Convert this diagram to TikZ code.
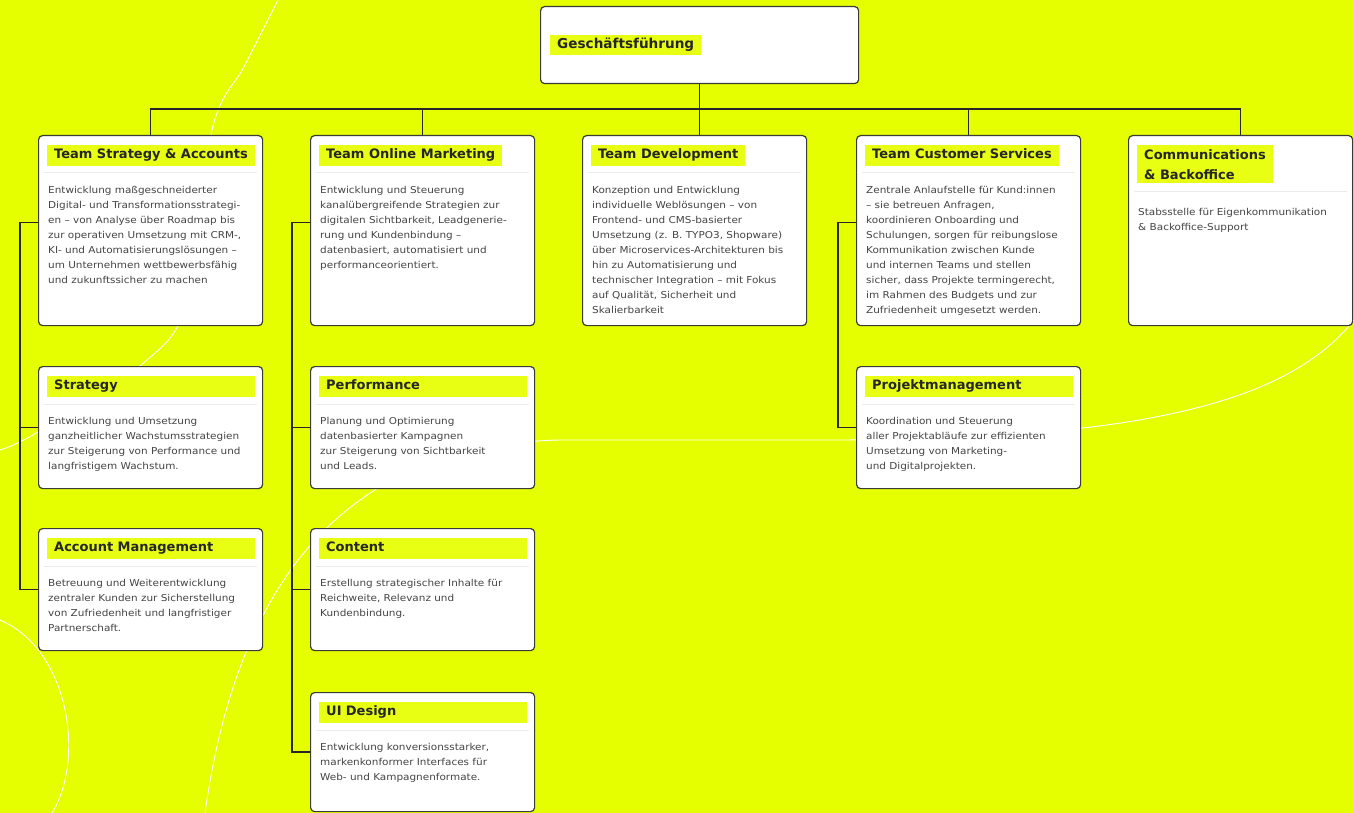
\documentclass[tikz,border=0pt]{standalone}
\usepackage{fontspec}
\setmainfont{DejaVu Sans}
\newfontfamily\bodyfont[FakeStretch=1.1]{DejaVu Sans}
\usetikzlibrary{positioning,calc}
\definecolor{bgYellow}{HTML}{E5FF00}
\definecolor{hlYellow}{HTML}{E8FF14}
\definecolor{frameGray}{HTML}{3A3A3A}
\definecolor{textGray}{HTML}{444444}

\begin{document}
\begin{tikzpicture}[x=1pt, y=-1pt,
  unitBox/.style={draw=frameGray, line width=1.2pt, fill=white, rounded corners=4pt, anchor=north west, inner sep=0pt, minimum width=224pt},
  baseTag/.style={fill=hlYellow, anchor=north west, inner xsep=7pt, inner ysep=4pt, font=\fontsize{13}{20}\selectfont\bfseries, text=black!85, align=left},
  titleTag/.style={baseTag, text height=9.5pt, text depth=3pt},
  wideTag/.style={titleTag, text width=194pt},
  bodyText/.style={anchor=north west, inner sep=0pt, align=left, font=\bodyfont\fontsize{9.5}{15}\selectfont, text=textGray},
  linkLine/.style={draw=black!85, line width=1.4pt},
  sepLine/.style={draw=black!8, line width=0.8pt},
  bgCurve/.style={draw=white, line width=0.9pt}
]
\fill[bgYellow] (0,0) rectangle (1354,813);
\useasboundingbox (0,0) rectangle (1354,813);

\draw[bgCurve] plot[smooth, tension=0.6] coordinates {(278,0) (245,65) (212,130) (188,300) (140,366) (38,432) (0,450)};
\draw[bgCurve] (0,620) .. controls (70,650) and (85,760) .. (52,813);
\draw[bgCurve] (205,813) .. controls (235,600) and (330,445) .. (560,440) -- (830,440) .. controls (1150,440) and (1290,400) .. (1354,320);

\node[unitBox, minimum width=318pt, minimum height=77pt] (gf) at (540,6) {};
\node[titleTag, anchor=west, font=\fontsize{13.6}{16}\selectfont\bfseries] (gfT) at ([xshift=10pt]gf.west) {Geschäftsführung};

\node[unitBox, minimum height=190pt] (tsa) at (38,135) {};
\node[unitBox, minimum height=190pt] (tom) at (310,135) {};
\node[unitBox, minimum height=190pt] (tdev) at (582,135) {};
\node[unitBox, minimum height=190pt] (tcs) at (856,135) {};
\node[unitBox, minimum height=190pt] (tcb) at (1128,135) {};

\node[unitBox, minimum height=122pt] (strat) at (38,366) {};
\node[unitBox, minimum height=122pt] (perf) at (310,366) {};
\node[unitBox, minimum height=122pt] (pm) at (856,366) {};
\node[unitBox, minimum height=122pt] (acc) at (38,528) {};
\node[unitBox, minimum height=122pt] (cont) at (310,528) {};
\node[unitBox, minimum height=119pt] (uid) at (310,692) {};

\node[titleTag] (tsaT) at ([xshift=9pt,yshift=-10pt]tsa.north west) {Team Strategy \& Accounts};
\node[titleTag] (tomT) at ([xshift=9pt,yshift=-10pt]tom.north west) {Team Online Marketing};
\node[titleTag] (tdevT) at ([xshift=9pt,yshift=-10pt]tdev.north west) {Team Development};
\node[titleTag] (tcsT) at ([xshift=9pt,yshift=-10pt]tcs.north west) {Team Customer Services};
\node[baseTag] (tcbT) at ([xshift=9pt,yshift=-10pt]tcb.north west) {Communications\\\& Backoffice};
\node[wideTag] (stratT) at ([xshift=9pt,yshift=-10pt]strat.north west) {Strategy};
\node[wideTag] (perfT) at ([xshift=9pt,yshift=-10pt]perf.north west) {Performance};
\node[wideTag] (pmT) at ([xshift=9pt,yshift=-10pt]pm.north west) {Projektmanagement};
\node[wideTag] (accT) at ([xshift=9pt,yshift=-10pt]acc.north west) {Account Management};
\node[wideTag] (contT) at ([xshift=9pt,yshift=-10pt]cont.north west) {Content};
\node[wideTag] (uidT) at ([xshift=9pt,yshift=-10pt]uid.north west) {UI Design};

\draw[sepLine] ($(tsaT.south -| tsa.west)+(6pt,-7pt)$) -- ($(tsaT.south -| tsa.east)+(-6pt,-7pt)$);
\draw[sepLine] ($(tomT.south -| tom.west)+(6pt,-7pt)$) -- ($(tomT.south -| tom.east)+(-6pt,-7pt)$);
\draw[sepLine] ($(tdevT.south -| tdev.west)+(6pt,-7pt)$) -- ($(tdevT.south -| tdev.east)+(-6pt,-7pt)$);
\draw[sepLine] ($(tcsT.south -| tcs.west)+(6pt,-7pt)$) -- ($(tcsT.south -| tcs.east)+(-6pt,-7pt)$);
\draw[sepLine] ($(tcbT.south -| tcb.west)+(6pt,-8pt)$) -- ($(tcbT.south -| tcb.east)+(-6pt,-8pt)$);
\draw[sepLine] ($(stratT.south -| strat.west)+(6pt,-7pt)$) -- ($(stratT.south -| strat.east)+(-6pt,-7pt)$);
\draw[sepLine] ($(perfT.south -| perf.west)+(6pt,-7pt)$) -- ($(perfT.south -| perf.east)+(-6pt,-7pt)$);
\draw[sepLine] ($(pmT.south -| pm.west)+(6pt,-7pt)$) -- ($(pmT.south -| pm.east)+(-6pt,-7pt)$);
\draw[sepLine] ($(accT.south -| acc.west)+(6pt,-7pt)$) -- ($(accT.south -| acc.east)+(-6pt,-7pt)$);
\draw[sepLine] ($(contT.south -| cont.west)+(6pt,-7pt)$) -- ($(contT.south -| cont.east)+(-6pt,-7pt)$);
\draw[sepLine] ($(uidT.south -| uid.west)+(6pt,-7pt)$) -- ($(uidT.south -| uid.east)+(-6pt,-7pt)$);

\node[bodyText] (tsaB) at ([xshift=1pt,yshift=-20pt]tsaT.south west) {Entwicklung maßgeschneiderter\\Digital- und Transformationsstrategi-\\en – von Analyse über Roadmap bis\\zur operativen Umsetzung mit CRM-,\\KI- und Automatisierungslösungen –\\um Unternehmen wettbewerbsfähig\\und zukunftssicher zu machen};
\node[bodyText] (tomB) at ([xshift=1pt,yshift=-20pt]tomT.south west) {Entwicklung und Steuerung\\kanalübergreifende Strategien zur\\digitalen Sichtbarkeit, Leadgenerie-\\rung und Kundenbindung –\\datenbasiert, automatisiert und\\performanceorientiert.};
\node[bodyText] (tdevB) at ([xshift=1pt,yshift=-20pt]tdevT.south west) {Konzeption und Entwicklung\\individuelle Weblösungen – von\\Frontend- und CMS-basierter\\Umsetzung (z. B. TYPO3, Shopware)\\über Microservices-Architekturen bis\\hin zu Automatisierung und\\technischer Integration – mit Fokus\\auf Qualität, Sicherheit und\\Skalierbarkeit};
\node[bodyText] (tcsB) at ([xshift=1pt,yshift=-20pt]tcsT.south west) {Zentrale Anlaufstelle für Kund:innen\\– sie betreuen Anfragen,\\koordinieren Onboarding und\\Schulungen, sorgen für reibungslose\\Kommunikation zwischen Kunde\\und internen Teams und stellen\\sicher, dass Projekte termingerecht,\\im Rahmen des Budgets und zur\\Zufriedenheit umgesetzt werden.};
\node[bodyText] (tcbB) at ([xshift=1pt,yshift=-25pt]tcbT.south west) {Stabsstelle für Eigenkommunikation\\\& Backoffice-Support};
\node[bodyText] (stratB) at ([xshift=1pt,yshift=-20pt]stratT.south west) {Entwicklung und Umsetzung\\ganzheitlicher Wachstumsstrategien\\zur Steigerung von Performance und\\langfristigem Wachstum.};
\node[bodyText] (perfB) at ([xshift=1pt,yshift=-20pt]perfT.south west) {Planung und Optimierung\\datenbasierter Kampagnen\\zur Steigerung von Sichtbarkeit\\und Leads.};
\node[bodyText] (pmB) at ([xshift=1pt,yshift=-20pt]pmT.south west) {Koordination und Steuerung\\aller Projektabläufe zur effizienten\\Umsetzung von Marketing-\\und Digitalprojekten.};
\node[bodyText] (accB) at ([xshift=1pt,yshift=-20pt]accT.south west) {Betreuung und Weiterentwicklung\\zentraler Kunden zur Sicherstellung\\von Zufriedenheit und langfristiger\\Partnerschaft.};
\node[bodyText] (contB) at ([xshift=1pt,yshift=-20pt]contT.south west) {Erstellung strategischer Inhalte für\\Reichweite, Relevanz und\\Kundenbindung.};
\node[bodyText] (uidB) at ([xshift=1pt,yshift=-20pt]uidT.south west) {Entwicklung konversionsstarker,\\markenkonformer Interfaces für\\Web- und Kampagnenformate.};

\coordinate (busY) at ($(gf.south)+(0,-25pt)$);
\draw[linkLine] (gf.south) -- (gf.south |- tdev.north);
\draw[linkLine] (tsa.north) |- (busY) -| (tcb.north);
\draw[linkLine] (tom.north) -- (tom.north |- busY);
\draw[linkLine] (tcs.north) -- (tcs.north |- busY);

\draw[linkLine] ([yshift=8pt]tsa.west) -| ([xshift=-18pt]acc.west) -- (acc.west);
\draw[linkLine] (strat.west) -- ++(-18pt,0);
\draw[linkLine] ([yshift=8pt]tom.west) -| ([xshift=-18pt]uid.west) -- (uid.west);
\draw[linkLine] (perf.west) -- ++(-18pt,0);
\draw[linkLine] (cont.west) -- ++(-18pt,0);
\draw[linkLine] ([yshift=8pt]tcs.west) -| ([xshift=-18pt]pm.west) -- (pm.west);
\end{tikzpicture}
\end{document}
